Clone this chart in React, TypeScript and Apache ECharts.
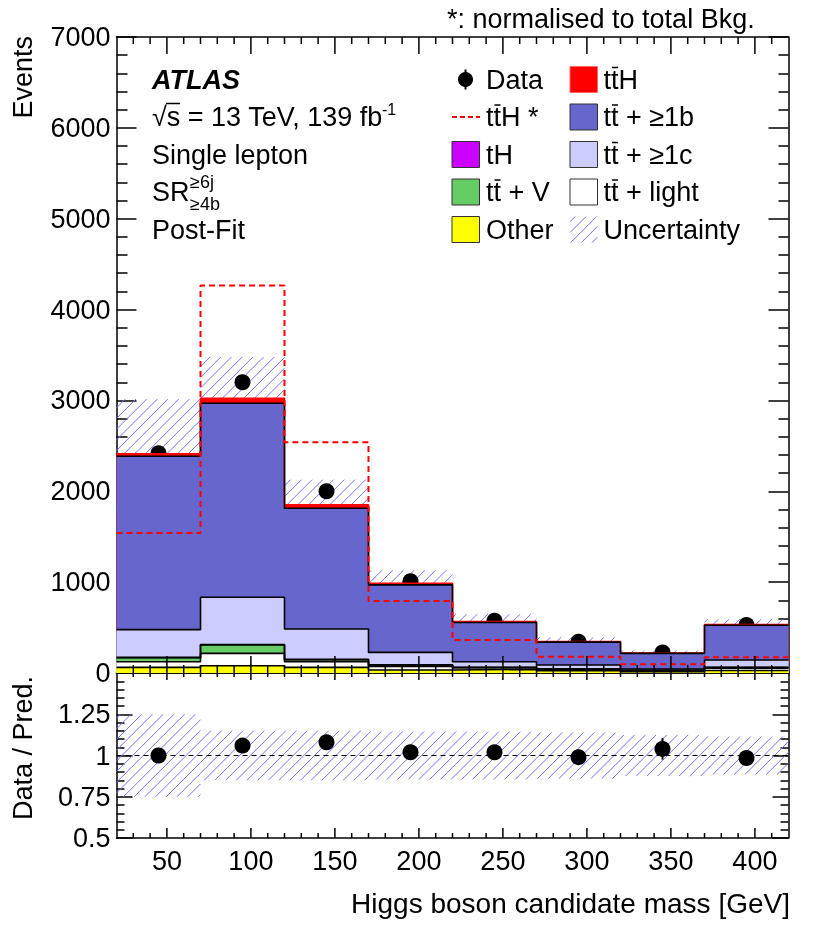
import React, { useEffect, useRef } from "react";
import * as echarts from "echarts";

// ---------- data ----------
const binLow = [20, 70, 120, 170, 220, 270, 320, 370];
const binWidth = 50;
const xMin = 20;
const xMax = 420;
const xMajorTicks = [50, 100, 150, 200, 250, 300, 350, 400];
const xMinorStep = 10;

const other = [62, 80, 62, 33, 40, 25, 15, 28];
const ttLight = [62, 136, 62, 40, 17, 14, 10, 26];
const ttV = [44, 92, 22, 15, 4, 4, 3, 6];
const tH = [4, 6, 4, 2, 1, 1, 1, 2];
const tt1c = [305, 519, 334, 137, 62, 44, 15, 81];
const tt1b = [1908, 2136, 1329, 743, 432, 252, 172, 382];
const ttH = [27, 55, 37, 17, 9, 5, 4, 7];

const ttHNorm = [1542, 4265, 2540, 793, 363, 180, 95, 174];
const dataVals = [2420, 3200, 2000, 1010, 576, 345, 227, 529];
const dataErr = [49, 57, 45, 32, 24, 19, 15, 23];
const uncRel = [0.25, 0.15, 0.15, 0.145, 0.145, 0.14, 0.125, 0.115];

const ratioVals = [1.0, 1.06, 1.08, 1.02, 1.02, 0.99, 1.04, 0.985];
const ratioErr = [0.02, 0.02, 0.022, 0.03, 0.04, 0.045, 0.065, 0.043];

const FONT = '"Liberation Sans", Arial, Helvetica, sans-serif';
const FS = 27;
const HATCH = "#7272ff";
const HSP = 10.7;
const TICK = "#000000";

const components = [
  { name: "Other", values: other, color: "#ffff00", edge: "#000000" },
  { name: "tt+light", values: ttLight, color: "#ffffff", edge: "#000000" },
  { name: "tt+V", values: ttV, color: "#66cc66", edge: "#000000" },
  { name: "tH", values: tH, color: "#cc00ff", edge: "#000000" },
  { name: "tt+>=1c", values: tt1c, color: "#ccccff", edge: "#000000" },
  { name: "tt+>=1b", values: tt1b, color: "#6666cc", edge: "#000000" },
  { name: "ttH", values: ttH, color: "#ff0000", edge: "#ff0000" },
];

function hatchLines(x0: number, y0: number, x1: number, y1: number) {
  const out: any[] = [];
  const c0 = Math.ceil((x0 + y0) / HSP) * HSP;
  for (let c = c0; c <= x1 + y1; c += HSP) {
    const xs = Math.max(x0, c - y1);
    const xe = Math.min(x1, c - y0);
    if (xe > xs) {
      out.push({
        type: "line",
        shape: { x1: xs, y1: c - xs, x2: xe, y2: c - xe },
        style: { stroke: HATCH, lineWidth: 1 },
      });
    }
  }
  return out;
}

function stepData(vals: number[]) {
  return binLow
    .map((lo, i) => [lo, vals[i]])
    .concat([[xMax, vals[vals.length - 1]]]);
}

function xAx(gridIndex: number, position: string, labels: boolean) {
  return {
    type: "value",
    gridIndex,
    position,
    min: xMin,
    max: xMax,
    minInterval: 50,
    maxInterval: 50,
    axisLine: { show: true, onZero: false, lineStyle: { color: "#000", width: 1.5 } },
    axisTick: { show: false },
    axisLabel: labels
      ? {
          show: true,
          color: "#000",
          fontFamily: FONT,
          fontSize: FS,
          margin: 9,
          showMinLabel: false,
          showMaxLabel: false,
          hideOverlap: false,
          formatter: (v: number) => (xMajorTicks.indexOf(v) >= 0 ? String(v) : ""),
        }
      : { show: false },
    splitLine: { show: false },
  };
}

function yAx(
  gridIndex: number,
  position: string,
  min: number,
  max: number,
  interval: number,
  len: number,
  minorLen: number,
  labels: boolean,
  fmt?: (v: number) => string
) {
  return {
    type: "value",
    gridIndex,
    position,
    min,
    max,
    interval,
    axisLine: { show: true, onZero: false, lineStyle: { color: "#000", width: 1.5 } },
    axisTick: { show: true, inside: true, length: len, lineStyle: { color: TICK, width: 1.5 } },
    minorTick: { show: true, splitNumber: 5, length: minorLen, lineStyle: { color: TICK, width: 1.5 } },
    axisLabel: labels
      ? {
          show: true,
          color: "#000",
          fontFamily: FONT,
          fontSize: FS,
          margin: 6,
          hideOverlap: false,
          formatter: fmt || ((v: number) => String(v)),
        }
      : { show: false },
    splitLine: { show: false },
    minorSplitLine: { show: false },
  };
}

function txt(x: number, y: number, text: string, o: any = {}) {
  return {
    type: "text",
    x,
    y,
    rotation: o.rot || 0,
    silent: true,
    style: {
      text,
      fill: "#000",
      fontFamily: FONT,
      fontSize: o.size || FS,
      fontWeight: o.weight || "normal",
      fontStyle: o.fstyle || "normal",
      align: o.align || "left",
      verticalAlign: o.va || "middle",
    },
  };
}

function bar(x1: number, x2: number, y: number) {
  return {
    type: "line",
    silent: true,
    shape: { x1, y1: y, x2, y2: y },
    style: { stroke: "#000", lineWidth: 1.5 },
  };
}

// x-axis ticks (major + minor) on bottom and top edges of a panel
function xTickSeries(xi: number, yi: number, yLo: number, yHi: number, lens: number[]) {
  const items: number[][] = [];
  for (let v = xMin + xMinorStep; v < xMax; v += xMinorStep) {
    const major = xMajorTicks.indexOf(v) >= 0;
    items.push([v, yLo, -(major ? lens[0] : lens[1])]);
    items.push([v, yHi, major ? lens[2] : lens[3]]);
  }
  return {
    type: "custom",
    xAxisIndex: xi,
    yAxisIndex: yi,
    z: 10,
    data: items,
    renderItem: (_p: any, api: any) => {
      const p = api.coord([api.value(0), api.value(1)]);
      return {
        type: "line",
        shape: { x1: p[0], y1: p[1], x2: p[0], y2: p[1] + api.value(2) },
        style: { stroke: TICK, lineWidth: 1.5 },
      };
    },
  };
}

export default function App() {
  const ref = useRef<HTMLDivElement>(null);

  useEffect(() => {
    const chart = echarts.init(ref.current!, null, { renderer: "svg" });

    const cum: number[][] = [];
    components.forEach((c, k) => {
      cum.push(c.values.map((v, i) => v + (k > 0 ? cum[k - 1][i] : 0)));
    });
    const total = cum[cum.length - 1];

    const series: any[] = [];
    for (let k = components.length - 1; k >= 0; k--) {
      const c = components[k];
      series.push({
        type: "line",
        name: c.name,
        xAxisIndex: 0,
        yAxisIndex: 0,
        data: stepData(cum[k]),
        step: "end",
        symbol: "none",
        silent: true,
        areaStyle: { color: c.color, opacity: 1 },
        lineStyle: { color: c.edge, width: 1.6 },
      });
    }

    series.push({
      type: "custom",
      xAxisIndex: 0,
      yAxisIndex: 0,
      silent: true,
      data: binLow.map((lo, i) => [lo, lo + binWidth, total[i] * (1 - uncRel[i]), total[i] * (1 + uncRel[i])]),
      renderItem: (_p: any, api: any) => {
        const a = api.coord([api.value(0), api.value(3)]);
        const b = api.coord([api.value(1), api.value(2)]);
        return { type: "group", children: hatchLines(a[0], a[1], b[0], b[1]) };
      },
    });

    series.push({
      type: "line",
      xAxisIndex: 0,
      yAxisIndex: 0,
      data: stepData(ttHNorm),
      step: "end",
      symbol: "none",
      silent: true,
      lineStyle: { color: "#ff0000", width: 2, type: [6, 4] },
    });

    const errSeries = (xi: number, yi: number, vals: number[], errs: number[]) => ({
      type: "custom",
      xAxisIndex: xi,
      yAxisIndex: yi,
      silent: true,
      data: binLow.map((lo, i) => [lo + binWidth / 2, vals[i], errs[i]]),
      renderItem: (_p: any, api: any) => {
        const a = api.coord([api.value(0), api.value(1) + api.value(2)]);
        const b = api.coord([api.value(0), api.value(1) - api.value(2)]);
        return {
          type: "line",
          shape: { x1: a[0], y1: a[1], x2: b[0], y2: b[1] },
          style: { stroke: "#000", lineWidth: 2 },
        };
      },
    });

    const pointSeries = (xi: number, yi: number, vals: number[]) => ({
      type: "scatter",
      xAxisIndex: xi,
      yAxisIndex: yi,
      symbol: "circle",
      symbolSize: 16,
      silent: true,
      itemStyle: { color: "#000", opacity: 1, borderWidth: 0 },
      data: binLow.map((lo, i) => [lo + binWidth / 2, vals[i]]),
    });

    series.push(errSeries(0, 0, dataVals, dataErr));
    series.push(pointSeries(0, 0, dataVals));
    series.push(xTickSeries(0, 0, 0, 7000, [17, 8, 17, 7]));

    series.push({
      type: "custom",
      xAxisIndex: 2,
      yAxisIndex: 2,
      silent: true,
      data: binLow.map((lo, i) => [lo, lo + binWidth, 1 - uncRel[i], 1 + uncRel[i]]),
      renderItem: (_p: any, api: any) => {
        const a = api.coord([api.value(0), api.value(3)]);
        const b = api.coord([api.value(1), api.value(2)]);
        return { type: "group", children: hatchLines(a[0], a[1], b[0], b[1]) };
      },
    });
    series.push({
      type: "line",
      xAxisIndex: 2,
      yAxisIndex: 2,
      data: [
        [xMin, 1],
        [xMax, 1],
      ],
      symbol: "none",
      silent: true,
      lineStyle: { color: "#000", width: 1.2, type: [5, 4] },
    });
    series.push(errSeries(2, 2, ratioVals, ratioErr));
    series.push(pointSeries(2, 2, ratioVals));
    series.push(xTickSeries(2, 2, 0.5, 1.5, [10, 5, 7, 4]));

    const rows = [79.5, 117, 154.5, 192, 229.5];
    const tW = 0.278 * FS;
    const LX = 486;
    const RX = 603.5;
    const LB = [452, 479.5];
    const RB = [570, 597.5];
    const tbar = (x0: number, row: number) => bar(x0 + tW + 1, x0 + 2 * tW - 0.5, row - 12);
    const box = (x0: number, x1: number, row: number, fill: string, stroke: string) => ({
      type: "rect",
      silent: true,
      shape: { x: x0, y: row - 13, width: x1 - x0, height: 26 },
      style: { fill, stroke, lineWidth: 1 },
    });

    const graphics: any[] = [
      txt(447, 19, "*: normalised to total Bkg."),
      txt(23, 36, "Events", { rot: Math.PI / 2, align: "right" }),
      txt(23, 676, "Data / Pred.", { rot: Math.PI / 2, align: "right" }),
      txt(790, 903, "Higgs boson candidate mass [GeV]", { align: "right", size: 28 }),
      txt(152, rows[0], "ATLAS", { weight: "bold", fstyle: "italic" }),
      txt(152, rows[1], "\u221As = 13 TeV, 139 fb"),
      txt(382, rows[1] - 8, "-1", { size: 16 }),
      bar(166, 180, rows[1] - 13.5),
      txt(152, rows[2], "Single lepton"),
      txt(152, rows[3], "SR"),
      txt(190, rows[3] - 10, "\u22656j", { size: 18 }),
      txt(190, rows[3] + 12, "\u22654b", { size: 18 }),
      txt(152, rows[4], "Post-Fit"),
      { type: "circle", silent: true, shape: { cx: 465.5, cy: rows[0], r: 7.5 }, style: { fill: "#000" } },
      {
        type: "line",
        silent: true,
        shape: { x1: 465.5, y1: rows[0] - 10, x2: 465.5, y2: rows[0] + 10 },
        style: { stroke: "#000", lineWidth: 2 },
      },
      txt(LX, rows[0], "Data"),
      {
        type: "line",
        silent: true,
        shape: { x1: 452, y1: rows[1], x2: 480, y2: rows[1] },
        style: { stroke: "#ff0000", lineWidth: 2, lineDash: [5, 3] },
      },
      txt(LX, rows[1], "ttH *"),
      tbar(LX, rows[1]),
      box(LB[0], LB[1], rows[2], "#cc00ff", "#333"),
      txt(LX, rows[2], "tH"),
      box(LB[0], LB[1], rows[3], "#66cc66", "#333"),
      txt(LX, rows[3], "tt + V"),
      tbar(LX, rows[3]),
      box(LB[0], LB[1], rows[4], "#ffff00", "#333"),
      txt(LX, rows[4], "Other"),
      box(RB[0], RB[1], rows[0], "#ff0000", "#ff6666"),
      txt(RX, rows[0], "ttH"),
      tbar(RX, rows[0]),
      box(RB[0], RB[1], rows[1], "#6666cc", "#333"),
      txt(RX, rows[1], "tt + \u22651b"),
      tbar(RX, rows[1]),
      box(RB[0], RB[1], rows[2], "#ccccff", "#333"),
      txt(RX, rows[2], "tt + \u22651c"),
      tbar(RX, rows[2]),
      box(RB[0], RB[1], rows[3], "#ffffff", "#333"),
      txt(RX, rows[3], "tt + light"),
      tbar(RX, rows[3]),
      { type: "group", silent: true, children: hatchLines(RB[0], rows[4] - 13, RB[1], rows[4] + 13) },
      txt(RX, rows[4], "Uncertainty"),
    ];

    const option: any = {
      animation: false,
      grid: [
        { left: 116.5, top: 37, width: 672, height: 636 },
        { left: 116.5, top: 673, width: 672, height: 165 },
      ],
      xAxis: [
        xAx(0, "bottom", false),
        xAx(0, "top", false),
        xAx(1, "bottom", true),
        xAx(1, "top", false),
      ],
      yAxis: [
        yAx(0, "left", 0, 7000, 1000, 20, 11, true),
        yAx(0, "right", 0, 7000, 1000, 20, 10, false),
        yAx(1, "left", 0.5, 1.5, 0.25, 16, 8, true, (v: number) =>
          Math.abs(v - 1.5) < 1e-9 ? "" : String(+v.toFixed(2))
        ),
        yAx(1, "right", 0.5, 1.5, 0.25, 16, 8, false),
      ],
      series,
      graphic: { elements: graphics },
    };

    chart.setOption(option);
    return () => chart.dispose();
  }, []);

  return <div ref={ref} style={{ position: "fixed", left: 0, top: 0, width: 830, height: 936 }} />;
}
